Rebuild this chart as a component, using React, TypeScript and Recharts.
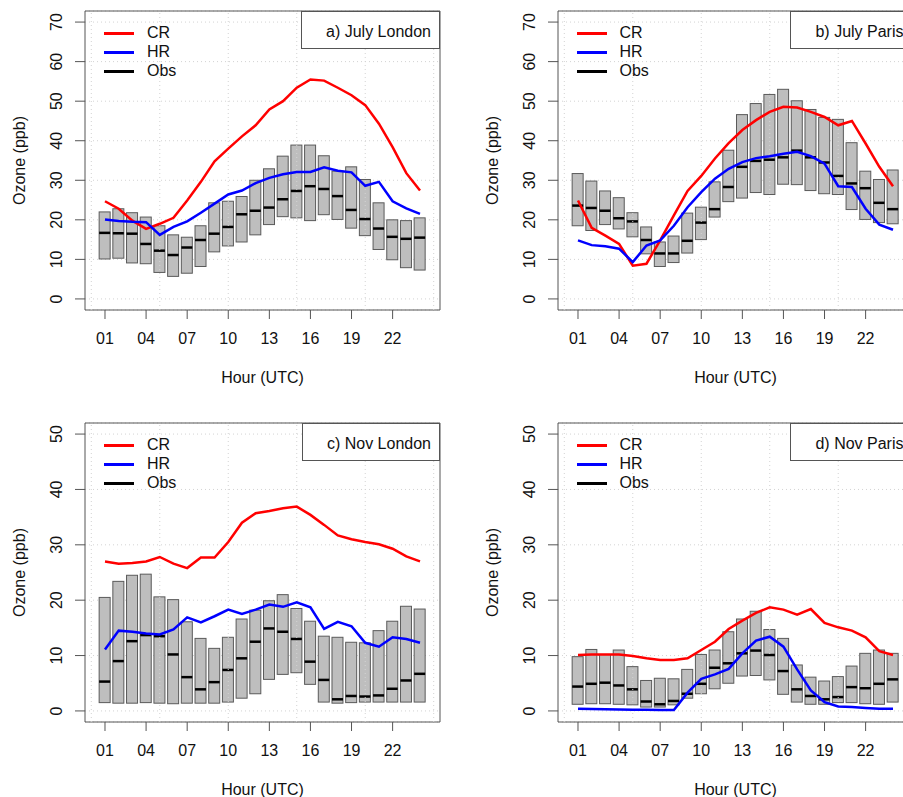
import React from "react";
import {
  Bar,
  CartesianGrid,
  ComposedChart,
  Line,
  ReferenceArea,
  ReferenceLine,
  XAxis,
  YAxis,
} from "recharts";

const FONT = '"Liberation Sans", Arial, Helvetica, sans-serif';

const hours = [1, 2, 3, 4, 5, 6, 7, 8, 9, 10, 11, 12, 13, 14, 15, 16, 17, 18, 19, 20, 21, 22, 23, 24];
const hourTicks = [1, 4, 7, 10, 13, 16, 19, 22];
const gridHours = [0, 5, 10, 15, 20, 25];
const julyTicks = [0, 10, 20, 30, 40, 50, 60, 70];
const novTicks = [0, 10, 20, 30, 40, 50];

// a) July London
const lowA = [10.1, 10.3, 9.1, 8.9, 6.7, 5.7, 6.5, 8.2, 11.9, 13.4, 14.4, 16.2, 18.8, 20.8, 20.5, 19.8, 21.3, 20.1, 17.9, 16.0, 12.5, 9.9, 7.9, 7.3];
const medA = [16.7, 16.6, 16.5, 13.9, 12.2, 11.1, 13.0, 14.9, 16.5, 18.2, 21.4, 22.3, 23.1, 25.2, 27.3, 28.5, 27.8, 26.0, 22.5, 20.2, 17.8, 15.7, 15.2, 15.5];
const highA = [22.0, 22.8, 21.8, 20.7, 18.5, 16.2, 15.6, 18.5, 24.3, 24.7, 25.9, 30.0, 32.9, 36.1, 38.9, 38.9, 36.2, 32.3, 33.4, 30.2, 24.3, 20.0, 19.8, 20.5];
const crA = [24.7, 22.8, 19.8, 17.7, 19.0, 20.5, 24.9, 29.6, 34.8, 38.0, 41.1, 43.9, 47.9, 50.0, 53.4, 55.5, 55.2, 53.4, 51.5, 49.0, 44.3, 38.4, 31.8, 27.4];
const hrA = [20.1, 19.7, 19.5, 19.4, 16.2, 18.2, 19.6, 21.8, 24.1, 26.4, 27.4, 29.3, 30.6, 31.5, 32.1, 32.1, 33.3, 32.4, 32.0, 28.6, 29.6, 24.7, 22.9, 21.5];

// b) July Paris
const lowB = [18.5, 17.3, 18.8, 17.7, 15.7, 11.4, 8.2, 9.2, 11.6, 15.0, 20.7, 24.6, 25.5, 26.9, 26.4, 29.0, 28.9, 27.4, 26.6, 26.4, 22.6, 20.1, 19.3, 19.0];
const medB = [23.6, 23.0, 22.3, 20.4, 19.6, 14.9, 11.5, 11.5, 14.7, 19.3, 22.7, 28.3, 33.4, 34.9, 35.2, 35.8, 37.5, 35.8, 34.5, 31.1, 29.2, 28.0, 24.3, 22.7];
const highB = [31.7, 29.8, 27.3, 25.6, 21.8, 18.2, 14.4, 15.9, 21.7, 23.2, 29.6, 37.6, 46.6, 49.4, 51.7, 53.0, 50.1, 47.9, 45.9, 45.4, 39.5, 32.3, 30.2, 32.6];
const crB = [24.9, 18.0, 16.0, 13.9, 8.4, 8.9, 14.8, 21.1, 27.3, 31.1, 35.5, 39.4, 42.7, 45.2, 47.3, 48.6, 48.4, 47.3, 46.0, 43.9, 45.0, 39.3, 33.4, 28.5];
const hrB = [14.8, 13.6, 13.3, 12.7, 9.3, 13.5, 14.8, 18.5, 23.2, 27.0, 30.4, 32.9, 34.6, 35.6, 36.1, 36.7, 37.2, 36.1, 34.2, 28.5, 28.3, 22.8, 18.8, 17.5];

// c) Nov London
const lowC = [1.5, 1.4, 1.4, 1.5, 1.4, 1.3, 1.4, 1.4, 1.4, 1.6, 2.3, 3.1, 5.7, 6.6, 6.9, 4.8, 1.6, 1.4, 1.5, 1.6, 1.6, 1.6, 1.6, 1.6];
const medC = [5.3, 9.0, 12.6, 13.7, 13.5, 10.2, 6.1, 3.9, 5.2, 7.4, 9.5, 12.5, 14.9, 14.3, 13.0, 8.9, 5.6, 2.1, 2.7, 2.6, 2.8, 4.0, 5.5, 6.7];
const highC = [20.5, 23.4, 24.5, 24.7, 20.6, 20.1, 16.1, 13.1, 11.3, 13.3, 16.6, 18.2, 19.9, 21.0, 18.5, 16.2, 13.5, 13.3, 12.4, 12.3, 14.5, 16.2, 18.9, 18.4];
const crC = [27.0, 26.6, 26.7, 27.0, 27.8, 26.6, 25.8, 27.7, 27.7, 30.5, 34.0, 35.7, 36.1, 36.6, 36.9, 35.4, 33.6, 31.7, 31.0, 30.5, 30.1, 29.3, 27.9, 27.0];
const hrC = [11.1, 14.5, 14.3, 14.0, 13.8, 14.7, 16.9, 16.0, 17.1, 18.3, 17.5, 18.3, 19.2, 18.8, 19.6, 18.7, 14.8, 16.1, 15.3, 12.3, 11.6, 13.3, 13.0, 12.3];

// d) Nov Paris
const lowD = [1.2, 1.3, 1.3, 1.2, 1.1, 0.7, 0.7, 1.1, 2.3, 3.1, 4.0, 5.0, 6.3, 6.4, 5.6, 3.0, 1.6, 1.2, 1.2, 1.5, 1.5, 1.3, 1.2, 1.6];
const medD = [4.4, 4.9, 5.1, 4.6, 3.9, 1.7, 1.2, 1.8, 3.1, 4.9, 7.8, 8.6, 10.4, 10.9, 10.1, 7.2, 3.9, 2.7, 2.1, 2.5, 4.3, 4.1, 4.9, 5.7];
const highD = [9.8, 11.1, 10.2, 11.0, 8.0, 5.5, 5.9, 5.8, 7.5, 10.2, 11.0, 14.3, 16.6, 18.0, 14.7, 13.1, 8.3, 6.1, 5.4, 6.2, 8.1, 10.4, 11.0, 10.4];
const crD = [10.1, 10.2, 10.2, 10.2, 9.9, 9.5, 9.2, 9.2, 9.5, 11.0, 12.5, 14.8, 16.3, 17.7, 18.7, 18.3, 17.4, 18.4, 15.9, 15.1, 14.5, 13.3, 10.8, 10.1];
const hrD = [0.4, 0.35, 0.3, 0.25, 0.2, 0.2, 0.15, 0.15, 3.3, 5.8, 6.6, 7.6, 10.4, 12.7, 13.4, 11.6, 7.5, 3.7, 1.6, 0.8, 0.7, 0.55, 0.4, 0.4];

const panels = [
  { title: "a) July London", low: lowA, med: medA, high: highA, cr: crA, hr: hrA, yMax: 70, yTicks: julyTicks, left: 0, top: 0, boxW: 139 },
  { title: "b) July Paris", low: lowB, med: medB, high: highB, cr: crB, hr: hrB, yMax: 70, yTicks: julyTicks, left: 472.5, top: 0, boxW: 122.5 },
  { title: "c) Nov London", low: lowC, med: medC, high: highC, cr: crC, hr: hrC, yMax: 50, yTicks: novTicks, left: 0, top: 412, boxW: 138 },
  { title: "d) Nov Paris", low: lowD, med: medD, high: highD, cr: crD, hr: hrD, yMax: 50, yTicks: novTicks, left: 472.5, top: 412, boxW: 122.5 },
];

const W = 450;
const H = 400;
const M = { top: 11, right: 10, bottom: 0, left: 0 };
const Y_W = 85;
const X_H = 90;
const X_DOMAIN: [number, number] = [-0.46, 25.46];

const BoxShape = (props: any) => {
  const { x, y, width, height, payload } = props;
  if (x == null || y == null) return null;
  const top = Math.min(y, y + height);
  const h = Math.abs(height);
  const medY = top + (h * (payload.high - payload.med)) / (payload.high - payload.low);
  return (
    <g>
      <rect x={x} y={top} width={width} height={h} fill="#bebebe" stroke="#5a5a5a" strokeWidth={1} />
      <line x1={x} x2={x + width} y1={medY} y2={medY} stroke="#000" strokeWidth={2.5} />
    </g>
  );
};

const YTick = (props: any) => {
  const { x, y, payload } = props;
  const cx = x - 18;
  return (
    <text
      x={cx}
      y={y}
      transform={`rotate(-90 ${cx} ${y})`}
      textAnchor="middle"
      dominantBaseline="central"
      fontSize={16}
      fontFamily={FONT}
      fill="#111"
    >
      {payload.value}
    </text>
  );
};

const Panel: React.FC<{ p: (typeof panels)[number] }> = ({ p }) => {
  const data = hours.map((h, i) => ({
    hour: h,
    low: p.low[i],
    med: p.med[i],
    high: p.high[i],
    cr: p.cr[i],
    hr: p.hr[i],
  }));
  const pad = p.yMax * 0.04;
  const yDomain: [number, number] = [-pad, p.yMax + pad];
  const plotLeft = M.left + Y_W;
  const plotRight = W - M.right;
  const legendRows = [
    { name: "CR", color: "#ff0000" },
    { name: "HR", color: "#0000ff" },
    { name: "Obs", color: "#000000" },
  ];

  return (
    <div style={{ position: "absolute", left: p.left, top: p.top, width: W, height: H }}>
      <ComposedChart width={W} height={H} data={data} margin={M}>
        <CartesianGrid vertical={false} stroke="#d3d3d3" strokeDasharray="1 3" />
        {gridHours.map((g) => (
          <ReferenceLine key={g} x={g} stroke="#d3d3d3" strokeDasharray="1 3" />
        ))}
        <XAxis
          dataKey="hour"
          type="number"
          domain={X_DOMAIN}
          allowDataOverflow
          ticks={hourTicks}
          interval={0}
          height={X_H}
          axisLine={false}
          tickSize={9}
          tickMargin={14}
          tickLine={{ stroke: "#555" }}
          tick={{ fill: "#111", fontSize: 16, fontFamily: FONT }}
          tickFormatter={(h: number) => String(h).padStart(2, "0")}
          label={{
            content: (lp: any) => {
              const vb = lp.viewBox || {};
              return (
                <text
                  x={vb.x + vb.width / 2}
                  y={vb.y + 67}
                  textAnchor="middle"
                  dominantBaseline="central"
                  fontSize={16}
                  fontFamily={FONT}
                  fill="#111"
                >
                  Hour (UTC)
                </text>
              );
            },
          }}
        />
        <YAxis
          type="number"
          domain={yDomain}
          allowDataOverflow
          ticks={p.yTicks}
          interval={0}
          width={Y_W}
          axisLine={false}
          tickSize={10}
          tickMargin={0}
          tickLine={{ stroke: "#555" }}
          tick={<YTick />}
          label={{
            content: (lp: any) => {
              const vb = lp.viewBox || {};
              const cx = vb.x + 19;
              const cy = vb.y + vb.height / 2;
              return (
                <text
                  x={cx}
                  y={cy}
                  transform={`rotate(-90 ${cx} ${cy})`}
                  textAnchor="middle"
                  dominantBaseline="central"
                  fontSize={16}
                  fontFamily={FONT}
                  fill="#111"
                >
                  Ozone (ppb)
                </text>
              );
            },
          }}
        />
        <Bar
          dataKey={(d: any) => [d.low, d.high]}
          barSize={11}
          shape={BoxShape}
          isAnimationActive={false}
        />
        <Line
          type="linear"
          dataKey="cr"
          stroke="#ff0000"
          strokeWidth={2.5}
          dot={false}
          activeDot={false}
          isAnimationActive={false}
        />
        <Line
          type="linear"
          dataKey="hr"
          stroke="#0000ff"
          strokeWidth={2.5}
          dot={false}
          activeDot={false}
          isAnimationActive={false}
        />
        <ReferenceArea
          x1={X_DOMAIN[0]}
          x2={X_DOMAIN[1]}
          y1={yDomain[0]}
          y2={yDomain[1]}
          fill="none"
          fillOpacity={0}
          stroke="#555"
          strokeWidth={1}
          ifOverflow="visible"
        />
      </ComposedChart>

      {/* legend */}
      {legendRows.map((r, i) => (
        <div
          key={r.name}
          style={{
            position: "absolute",
            left: plotLeft + 19,
            top: M.top + 22.3 + i * 19 - 10,
            height: 20,
            display: "flex",
            alignItems: "center",
            fontFamily: FONT,
            fontSize: 16,
            color: "#111",
          }}
        >
          <div style={{ width: 30, height: 2.5, background: r.color }} />
          <div style={{ marginLeft: 13 }}>{r.name}</div>
        </div>
      ))}

      {/* panel title box */}
      <div
        style={{
          position: "absolute",
          left: plotRight - p.boxW,
          top: M.top,
          width: p.boxW,
          height: 38,
          boxSizing: "border-box",
          border: "1px solid #555",
          background: "#fff",
          fontFamily: FONT,
          fontSize: 16,
          color: "#111",
          textAlign: "right",
          paddingRight: 8,
          paddingTop: 10,
          lineHeight: "20px",
          whiteSpace: "nowrap",
        }}
      >
        {p.title}
      </div>
    </div>
  );
};

const App: React.FC = () => {
  return (
    <div
      style={{
        position: "absolute",
        left: 0,
        top: 0,
        width: 903,
        height: 797,
        overflow: "hidden",
        background: "#fff",
      }}
    >
      {panels.map((p) => (
        <Panel key={p.title} p={p} />
      ))}
    </div>
  );
};

export default App;
